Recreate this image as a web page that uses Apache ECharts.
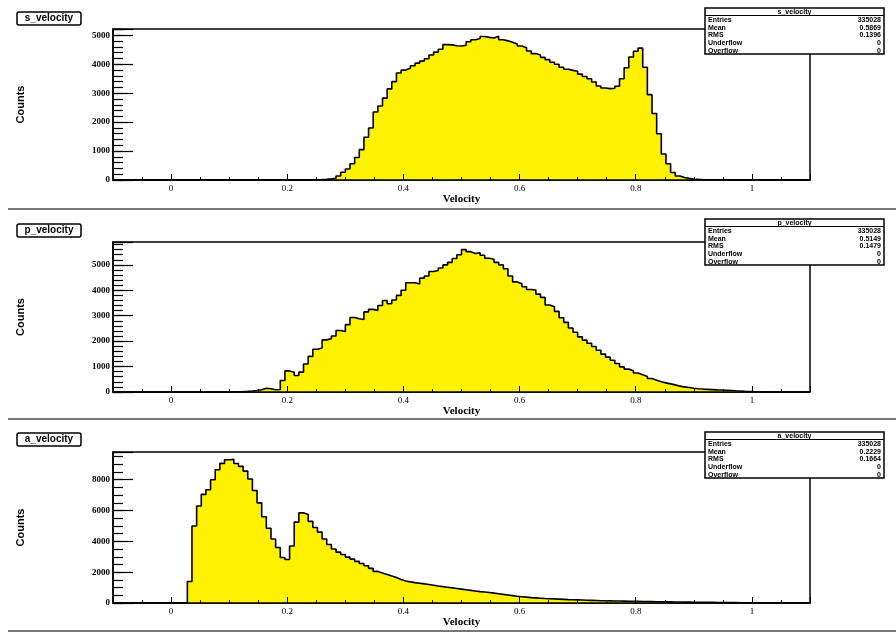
<!DOCTYPE html>
<html><head><meta charset="utf-8">
<script src="https://cdn.jsdelivr.net/npm/echarts@6/dist/echarts.min.js"></script>
<style>html,body{margin:0;padding:0;background:#fff}#c{width:896px;height:636px}</style>
</head><body><div id="c"></div>
<script>
// ---- histogram definition (data domain) ----
const histMin = -0.1, histMax = 1.1, nBins = 150;

// ---- bin contents (150 bins each) ----
const sCounts = [
0,0,0,0,0,0,0,0,0,0,
0,0,0,0,0,0,0,0,0,0,
0,0,0,0,0,0,0,0,0,0,
0,0,0,0,0,0,0,0,0,0,
0,2,5,10,15,25,40,60,140,270,
380,560,780,1050,1480,1800,2350,2560,2830,3150,
3400,3700,3800,3860,3950,4040,4110,4190,4320,4420,
4520,4680,4670,4640,4630,4660,4780,4850,4890,4960,
4930,4910,4970,4850,4810,4760,4700,4630,4570,4460,
4370,4320,4240,4160,4070,4000,3900,3830,3790,3760,
3660,3580,3500,3390,3250,3180,3160,3170,3240,3500,
3880,4250,4450,4560,3900,2950,2300,1600,900,560,
260,140,85,55,35,22,14,9,6,4,
3,2,1,0,0,0,0,0,0,0,
0,0,0,0,0,0,0,0,0,0
];
const pCounts = [
0,0,0,0,0,0,0,0,0,0,
0,0,0,0,0,0,0,0,0,0,
0,0,0,0,0,5,10,15,25,40,
60,90,150,130,90,100,450,830,780,650,
780,1100,1400,1680,1730,2050,2100,2200,2420,2380,
2650,2930,2880,2850,3150,3250,3210,3400,3600,3470,
3620,3800,4000,4300,4300,4250,4480,4560,4740,4780,
4880,5000,5100,5250,5400,5600,5520,5450,5480,5380,
5260,5220,5100,5000,4850,4560,4330,4260,4140,4030,
4010,3850,3720,3420,3350,3170,2920,2740,2520,2350,
2170,2040,1920,1790,1640,1490,1370,1250,1120,990,
900,840,750,680,610,530,460,400,360,320,
280,230,200,180,150,130,115,105,95,85,
80,70,60,50,42,30,22,14,8,5,
3,2,1,1,0,0,0,0,0,0
];
const aCounts = [
0,0,0,0,0,0,0,0,0,0,
0,0,0,0,0,0,1400,5000,6300,7050,
7350,8000,8650,9060,9300,9320,9050,8870,8560,8050,
7300,6500,5600,4850,4150,3600,2950,2820,3700,5250,
5850,5750,5300,4900,4600,4150,3800,3500,3300,3150,
2980,2850,2700,2560,2420,2250,2050,1950,1850,1750,
1650,1530,1430,1370,1320,1280,1240,1200,1150,1100,
1060,1020,980,940,900,860,820,780,740,710,
680,640,600,560,520,480,440,410,380,350,
330,310,290,280,265,250,235,220,210,200,
190,180,170,160,150,145,140,130,125,120,
115,110,105,100,95,90,85,80,76,72,
68,64,60,56,52,48,45,42,39,36,
33,30,27,24,21,18,15,12,9,6,
4,2,1,0,0,0,0,0,0,0
];

// ---- texts ----
const panelNames = ['s_velocity', 'p_velocity', 'a_velocity'];
const statLabels = ['Entries', 'Mean', 'RMS', 'Underflow', 'Overflow'];
const sStats = ['335028', '0.5869', '0.1396', '0', '0'];
const pStats = ['335028', '0.5149', '0.1479', '0', '0'];
const aStats = ['335028', '0.2229', '0.1664', '0', '0'];
const xTitle = 'Velocity';
const yTitle = 'Counts';
const yMaxima = [5220, 5900, 9800];
const yMajorSteps = [1000, 1000, 2000];
const yMinorSteps = [200, 200, 500];

const allCounts = [sCounts, pCounts, aCounts];
const allStats = [sStats, pStats, aStats];

// ---- layout ----
const gridTops = [29, 242, 452];
const gridHeights = [151, 150, 151];
const titleTops = [12, 224, 433];
const statTops = [8, 219, 432];
const sepYs = [209, 419, 631];
const FILL = '#fff200';

function stepData(counts) {
  const w = (histMax - histMin) / nBins;
  const d = counts.map((v, k) => [histMin + k * w, v]);
  d.push([histMax, counts[counts.length - 1]]);
  return d;
}

const grids = [], xAxes = [], yAxes = [], series = [], graphics = [];
const xTickFont = {fontFamily: 'Liberation Serif', fontSize: 9, color: '#000'};
const yTickFont = {fontFamily: 'Liberation Serif', fontSize: 9, fontWeight: 'bold', color: '#000'};

for (let i = 0; i < 3; i++) {
  grids.push({left: 113, right: 86, top: gridTops[i], height: gridHeights[i],
    show: true, borderColor: '#000', borderWidth: 1.5, backgroundColor: 'transparent'});
  // major x axis
  xAxes.push({type: 'value', gridIndex: i, position: 'bottom', min: histMin, max: histMax, splitNumber: 6, z: 5,
    axisLine: {show: true, onZero: false, lineStyle: {color: '#000', width: 1.5}},
    axisTick: {show: true, inside: true, length: 6, lineStyle: {color: '#000', width: 1}},
    axisLabel: Object.assign({margin: 4, formatter: v => (Math.abs(v / 0.2 - Math.round(v / 0.2)) < 1e-6 ? String(+v.toFixed(2)) : '')}, xTickFont),
    splitLine: {show: false},
    name: xTitle, nameLocation: 'middle', nameGap: 14,
    nameTextStyle: {fontFamily: 'Liberation Serif', fontWeight: 'bold', fontSize: 11, color: '#000'}});
  // minor x axis
  xAxes.push({type: 'value', gridIndex: i, position: 'bottom', min: histMin, max: histMax, interval: 0.05, z: 5,
    axisLine: {show: false, onZero: false},
    axisTick: {show: true, inside: true, length: 3, lineStyle: {color: '#000', width: 1}},
    axisLabel: {show: false}, splitLine: {show: false}});
  // major y axis
  yAxes.push({type: 'value', gridIndex: i, position: 'left', min: 0, max: yMaxima[i], interval: yMajorSteps[i], z: 5,
    axisLine: {show: true, onZero: false, lineStyle: {color: '#000', width: 1.5}},
    axisTick: {show: true, inside: true, length: 20, lineStyle: {color: '#000', width: 1.2}},
    axisLabel: Object.assign({margin: 3, formatter: (v => (v % yMajorSteps[i] === 0 ? String(v) : ''))}, yTickFont),
    splitLine: {show: false},
    name: yTitle, nameLocation: 'middle', nameRotate: 90, nameGap: 87,
    nameTextStyle: {fontFamily: 'Liberation Sans', fontWeight: 'bold', fontSize: 11, color: '#000'}});
  // minor y axis
  yAxes.push({type: 'value', gridIndex: i, position: 'left', min: 0, max: yMaxima[i], interval: yMinorSteps[i], z: 5,
    axisLine: {show: false, onZero: false},
    axisTick: {show: true, inside: true, length: 10, lineStyle: {color: '#000', width: 1.2}},
    axisLabel: {show: false}, splitLine: {show: false}});

  series.push({type: 'line', xAxisIndex: 2 * i, yAxisIndex: 2 * i, step: 'end',
    data: stepData(allCounts[i]), showSymbol: false, symbol: 'none', z: 2,
    lineStyle: {color: '#000', width: 1.6}, areaStyle: {color: FILL, opacity: 1, origin: 'start'}});

  // separator line
  graphics.push({type: 'line', shape: {x1: 8, y1: sepYs[i], x2: 896, y2: sepYs[i]},
    style: {stroke: '#777', lineWidth: 2}, z: 10});
  // title box
  graphics.push({type: 'rect', shape: {x: 17, y: titleTops[i], width: 64, height: 13, r: 2},
    style: {fill: '#fff', stroke: '#000', lineWidth: 1.5}, z: 10});
  graphics.push({type: 'text', x: 49, y: titleTops[i] + 6.5, z: 11,
    style: {text: panelNames[i], fill: '#000', font: 'bold 10px "Liberation Sans"',
      textAlign: 'center', textVerticalAlign: 'middle', align: 'center', verticalAlign: 'middle'}});
  // stats box
  const bt = statTops[i];
  graphics.push({type: 'rect', shape: {x: 705, y: bt, width: 179, height: 46},
    style: {fill: '#fff', stroke: '#000', lineWidth: 1.5}, z: 10});
  graphics.push({type: 'line', shape: {x1: 705, y1: bt + 7.5, x2: 884, y2: bt + 7.5},
    style: {stroke: '#000', lineWidth: 1}, z: 11});
  graphics.push({type: 'text', x: 794.5, y: bt + 4, z: 11,
    style: {text: panelNames[i], fill: '#000', font: 'bold 7px "Liberation Sans"',
      textAlign: 'center', textVerticalAlign: 'middle', align: 'center', verticalAlign: 'middle'}});
  const rowYs = [12, 19.7, 27, 35.3, 43];
  for (let r = 0; r < statLabels.length; r++) {
    graphics.push({type: 'text', x: 708, y: bt + rowYs[r], z: 11,
      style: {text: statLabels[r], fill: '#000', font: 'bold 7px "Liberation Sans"',
        textAlign: 'left', textVerticalAlign: 'middle', align: 'left', verticalAlign: 'middle'}});
    graphics.push({type: 'text', x: 881, y: bt + rowYs[r], z: 11,
      style: {text: allStats[i][r], fill: '#000', font: 'bold 7px "Liberation Sans"',
        textAlign: 'right', textVerticalAlign: 'middle', align: 'right', verticalAlign: 'middle'}});
  }
}

const chart = echarts.init(document.getElementById('c'), null, {renderer: 'canvas'});
chart.setOption({
  backgroundColor: '#fff',
  animation: false,
  grid: grids, xAxis: xAxes, yAxis: yAxes, series: series,
  graphic: {elements: graphics}
});
</script>
</body></html>
